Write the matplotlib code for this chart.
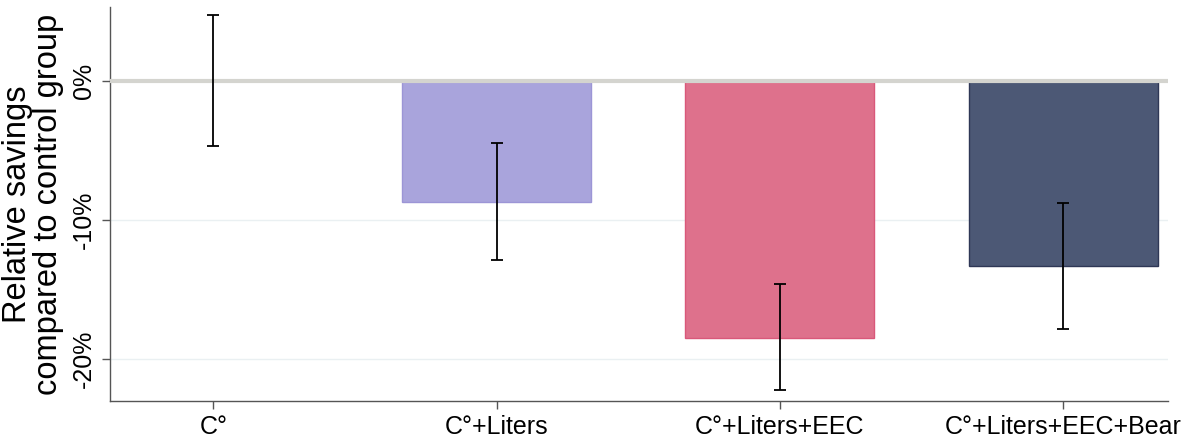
import numpy as np
import matplotlib
matplotlib.use("Agg")
import matplotlib.pyplot as plt

plt.rcParams['font.family'] = ['Liberation Sans', 'DejaVu Sans']

# treatment groups and estimated effects (percent vs control)
groups = ["C°", "C°+Liters", "C°+Liters+EEC", "C°+Liters+EEC+Bear"]
effects = [0.0, -8.7, -18.5, -13.3]
ci_half = [4.7, 4.2, 3.8, 4.5]
ci_center = [0.0, -8.67, -18.4, -13.3]
ytick_vals = [0, -10, -20]

bar_colors = ["none", "#a9a4dc", "#de718c", "#4c5875"]
edge_colors = ["none", "#9c95d6", "#d9587a", "#2e3756"]

fig = plt.figure(figsize=(11.93, 4.38), dpi=100)
ax = fig.add_axes([110 / 1193, 37 / 438, 1058 / 1193, 394 / 438])

x = np.arange(len(groups))

# light grid lines first
for v in ytick_vals[1:]:
    ax.axhline(v, color="#eaf0f2", lw=1, zorder=0)

ax.bar(x, effects, width=0.667, color=bar_colors, edgecolor=edge_colors,
       linewidth=1, zorder=2)

# zero reference line
ax.axhline(0, color="#d4d4cf", lw=3, zorder=3)

ax.errorbar(x, ci_center, yerr=ci_half, fmt="none", ecolor="black",
            elinewidth=1.3, capsize=4, capthick=1.3, zorder=4)

ax.set_xlim(-0.365, 3.37)
ax.set_ylim(-23.0, 5.3)

ax.set_xticks(x)
ax.set_xticklabels(groups, fontsize=18)
ax.set_yticks(ytick_vals)
ax.set_yticklabels([f"{v}%" for v in ytick_vals], fontsize=18,
                   rotation=90, va="center")

ax.tick_params(axis="both", direction="out", length=6, width=1,
               color="#555555", pad=4)

for side in ["top", "right"]:
    ax.spines[side].set_visible(False)
for side in ["left", "bottom"]:
    ax.spines[side].set_color("#555555")
    ax.spines[side].set_linewidth(1)

ax.set_ylabel("Relative savings\ncompared to control group", fontsize=23.5,
              linespacing=1.0, labelpad=6)

fig.savefig("out.png", dpi=100)
